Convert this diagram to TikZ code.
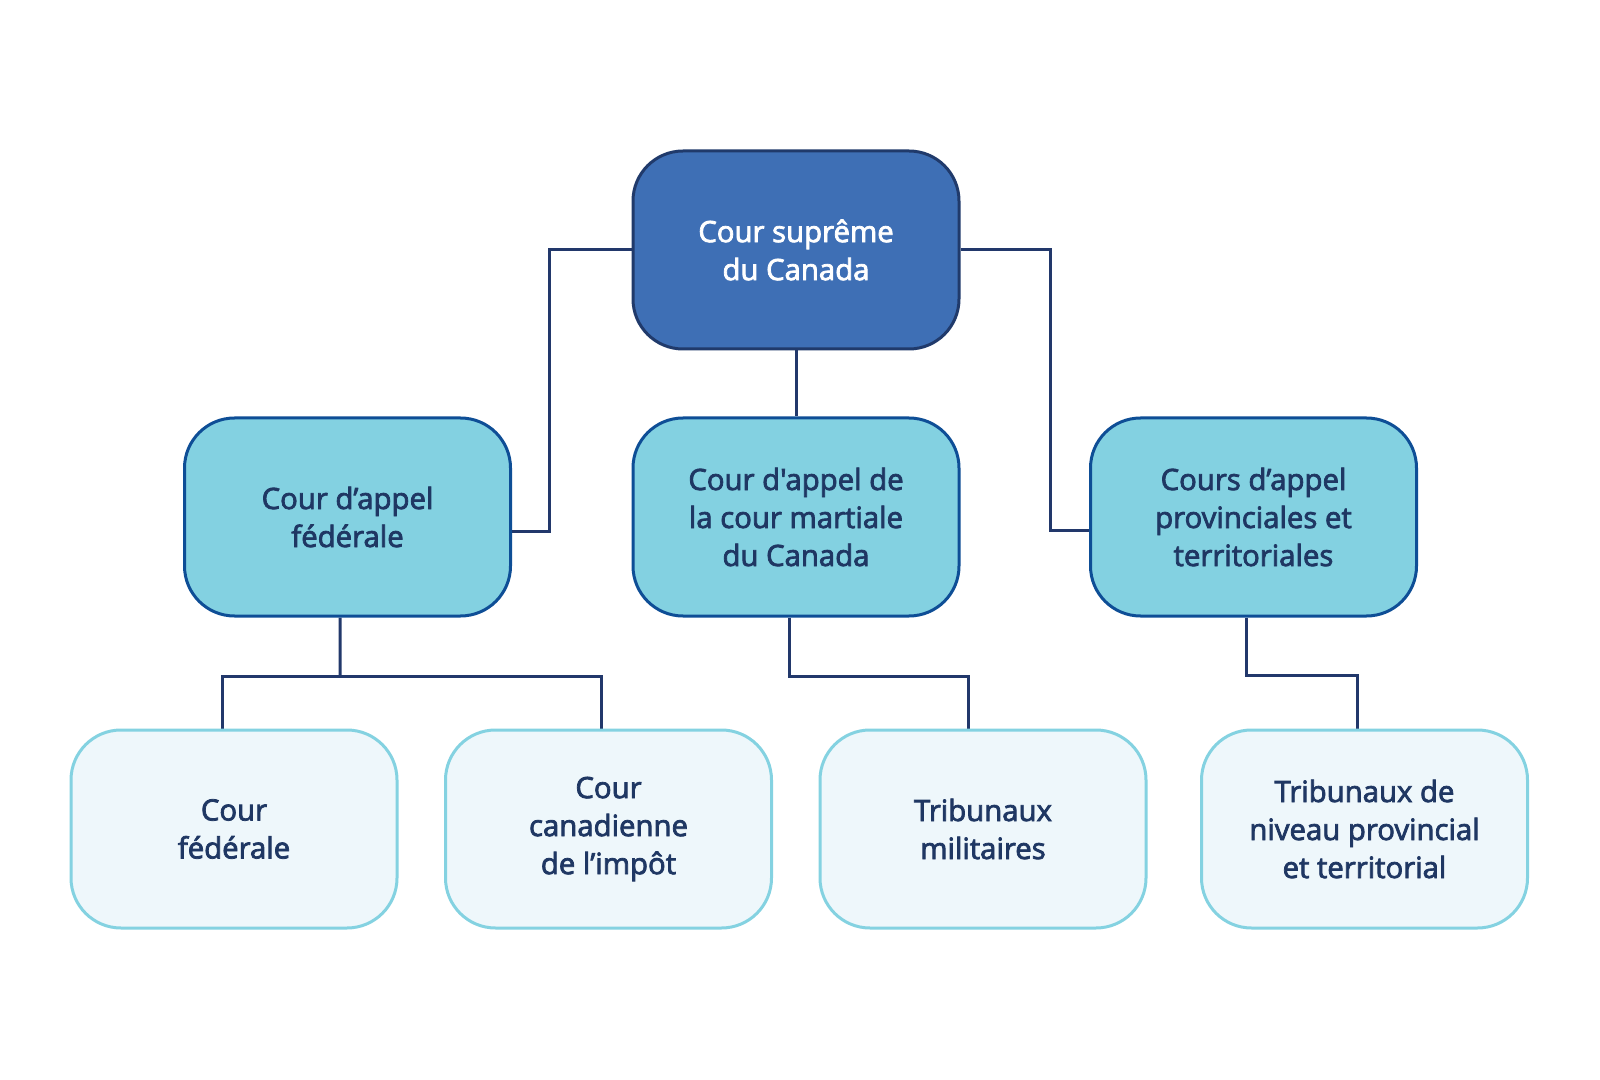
\documentclass[tikz,border=0pt]{standalone}
\usepackage{fontspec}
\setmainfont{Open Sans}[Ligatures=TeXOff, FakeBold=2.6]
\usetikzlibrary{backgrounds}
\definecolor{topfill}{HTML}{3E6FB5}
\definecolor{topborder}{HTML}{203A6B}
\definecolor{midfill}{HTML}{83D1E1}
\definecolor{midborder}{HTML}{0E4E96}
\definecolor{lowfill}{HTML}{EEF7FB}
\definecolor{lowborder}{HTML}{84D2E1}
\definecolor{navy}{HTML}{1F3763}
\definecolor{linecol}{HTML}{22386B}
\tikzset{
  box/.style={rounded corners=37.5pt, minimum width=244.5pt, minimum height=148.5pt,
    align=center, line width=2.25pt, inner sep=0pt, font=\fontsize{22}{28.5}\selectfont},
  topbox/.style={box, draw=topborder, fill=topfill, text=white},
  midbox/.style={box, draw=midborder, fill=midfill, text=navy},
  lowbox/.style={box, draw=lowborder, fill=lowfill, text=navy},
  conn/.style={draw=linecol, line width=2.25pt}
}
\begin{document}
\begin{tikzpicture}[x=0.75pt,y=-0.75pt]
\useasboundingbox (0,0) rectangle (1600,1080);
\node[topbox] (top) at (796,250) {Cour suprême\\du Canada};
\node[midbox] (fca) at (347.5,517) {Cour d’appel\\fédérale};
\node[midbox] (cacm) at (796,517) {Cour d'appel de\\la cour martiale\\du Canada};
\node[midbox] (cap) at (1253.5,517) {Cours d’appel\\provinciales et\\territoriales};
\node[lowbox] (cf) at (234,829) {Cour\\fédérale};
\node[lowbox] (cci) at (608.5,829) {Cour\\canadienne\\de l’impôt};
\node[lowbox] (tm) at (983,829) {Tribunaux\\militaires};
\node[lowbox] (tp) at (1364.5,829) {Tribunaux de\\niveau provincial\\et territorial};
\coordinate (j1) at (340,676);
\begin{scope}[on background layer]
\fill[white] (0,0) rectangle (1600,1080);
\draw[conn] (top.west) -- ++(-82,0) |- ([yshift=-10.5pt]fca.east);
\draw[conn] (top.east) -- ++(90,0) |- ([yshift=-9.75pt]cap.west);
\draw[conn] (top.south) -- (cacm.north);
\draw[conn] ([xshift=-5.6pt]fca.south) -- (j1);
\draw[conn] ([xshift=-9pt]cf.north) |- (j1) -| ([xshift=-5.6pt]cci.north);
\draw[conn] ([xshift=-5.25pt]cacm.south) -- ++(0,59) -| ([xshift=-11.25pt]tm.north);
\draw[conn] ([xshift=-5.6pt]cap.south) -- ++(0,58) -| ([xshift=-4.9pt]tp.north);
\end{scope}
\end{tikzpicture}
\end{document}
